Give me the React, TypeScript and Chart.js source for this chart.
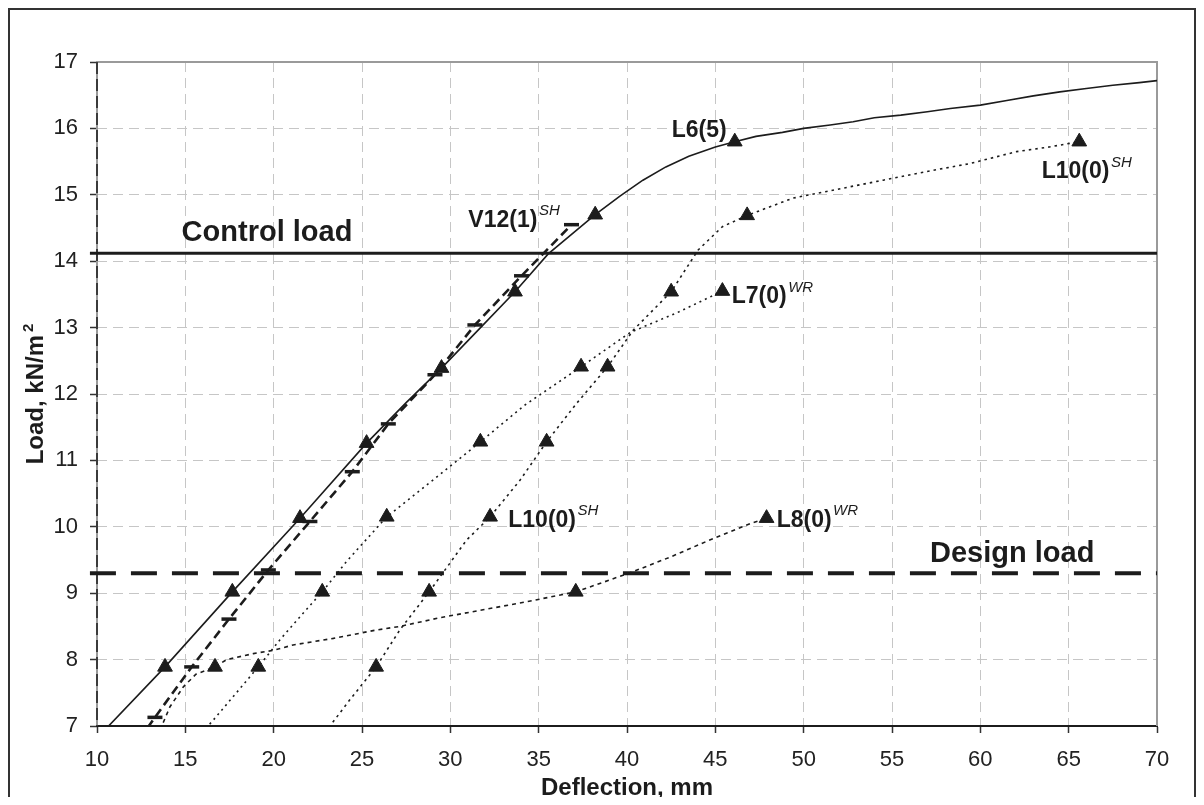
import React, { useEffect, useRef } from 'react';
import { Chart, registerables } from 'chart.js';

Chart.register(...registerables);

const FONT = '"Liberation Sans", Arial, Helvetica, sans-serif';
const INK = '#1c1c1c';

// Axis ranges
const X_MIN = 10;
const X_MAX = 70;
const X_STEP = 5;
const Y_MIN = 7;
const Y_MAX = 17;
const Y_STEP = 1;

// L6(5) — solid curve
const l6X = [10.3, 13.85, 17.66, 21.49, 25.26, 27.5, 29.5, 31.6, 33.66, 35.54, 38.2, 39.6, 40.9, 42.2, 43.5, 45.0, 46.1, 47.3, 48.8, 50.0, 51.5, 52.8, 54.0, 55.5, 57.0, 58.3, 60.0, 61.5, 63.0, 64.5, 66.0, 67.5, 69.0, 70.0];
const l6Y = [6.9, 7.89, 9.02, 10.13, 11.26, 11.87, 12.39, 12.97, 13.54, 14.11, 14.7, 14.98, 15.22, 15.42, 15.58, 15.72, 15.8, 15.88, 15.94, 16.0, 16.05, 16.1, 16.16, 16.2, 16.25, 16.3, 16.35, 16.42, 16.49, 16.55, 16.6, 16.65, 16.69, 16.72];
const l6MarkX = [13.85, 17.66, 21.49, 25.26, 29.5, 33.66, 38.2, 46.1];
const l6MarkY = [7.89, 9.02, 10.13, 11.26, 12.39, 13.54, 14.7, 15.8];

// V12(1)SH — dashed curve with dash markers
const v12X = [12.4, 13.28, 15.36, 17.47, 19.7, 22.05, 24.45, 26.49, 29.13, 31.39, 34.03, 36.86];
const v12Y = [6.8, 7.13, 7.89, 8.61, 9.35, 10.08, 10.83, 11.55, 12.29, 13.04, 13.78, 14.55];
const v12MarkX = [13.28, 15.36, 17.47, 19.7, 22.05, 24.45, 26.49, 29.13, 31.39, 34.03, 36.86];
const v12MarkY = [7.13, 7.89, 8.61, 9.35, 10.08, 10.83, 11.55, 12.29, 13.04, 13.78, 14.55];

// L7(0)WR — dotted
const l7X = [15.9, 16.49, 19.13, 20.36, 21.64, 22.75, 24.13, 26.4, 29.0, 31.7, 34.2, 37.4, 40.2, 42.8, 45.4];
const l7Y = [6.9, 7.06, 7.89, 8.3, 8.69, 9.02, 9.48, 10.15, 10.7, 11.28, 11.83, 12.41, 12.93, 13.22, 13.55];
const l7MarkX = [19.13, 22.75, 26.4, 31.7, 37.4, 45.4];
const l7MarkY = [7.89, 9.02, 10.15, 11.28, 12.41, 13.55];

// L10(0)SH — dotted
const l10X = [22.9, 24.3, 25.8, 27.15, 28.8, 30.92, 32.25, 33.94, 35.45, 37.15, 38.9, 40.35, 42.5, 44.03, 45.4, 46.8, 49.4, 51.3, 52.6, 54.5, 56.95, 59.4, 62.05, 63.9, 65.6];
const l10Y = [6.9, 7.39, 7.89, 8.45, 9.02, 9.8, 10.15, 10.7, 11.28, 11.86, 12.41, 12.96, 13.54, 14.17, 14.52, 14.69, 14.95, 15.05, 15.12, 15.22, 15.35, 15.47, 15.65, 15.72, 15.8];
const l10MarkX = [25.8, 28.8, 32.25, 35.45, 38.9, 42.5, 46.8, 65.6];
const l10MarkY = [7.89, 9.02, 10.15, 11.28, 12.41, 13.54, 14.69, 15.8];

// L8(0)WR — dotted
const l8X = [13.57, 14.13, 14.89, 15.6, 16.68, 17.34, 18.85, 19.98, 21.1, 23.38, 25.7, 27.15, 29.4, 31.85, 34.3, 37.1, 38.5, 40.3, 42.5, 44.5, 47.0, 47.9];
const l8Y = [6.94, 7.29, 7.59, 7.78, 7.89, 8.0, 8.09, 8.14, 8.22, 8.32, 8.44, 8.5, 8.63, 8.75, 8.87, 9.02, 9.15, 9.32, 9.55, 9.78, 10.05, 10.13];
const l8MarkX = [16.68, 37.1, 47.9];
const l8MarkY = [7.89, 9.02, 10.13];

// Reference load levels
const CONTROL_LOAD = 14.12;
const DESIGN_LOAD = 9.3;
const LOAD_LINE_X = [9.6, 70];

// Annotations
const CURVE_LABELS = ['L6(5)', 'L10(0)', 'V12(1)', 'L7(0)', 'L10(0)', 'L8(0)'];
const CURVE_LABEL_SUP = ['', 'SH', 'SH', 'WR', 'SH', 'WR'];
const CURVE_LABEL_X = [42.53, 63.47, 31.02, 45.93, 33.28, 48.47];
const CURVE_LABEL_Y = [15.875, 15.248, 14.52, 13.366, 10.0, 10.0];
const LOAD_LABELS = ['Control load', 'Design load'];
const LOAD_LABEL_X = [14.79, 57.15];
const LOAD_LABEL_Y = [14.309, 9.474];
const X_TITLE = 'Deflection, mm';
const Y_TITLE = 'Load, kN/m';
const Y_TITLE_SUP = '2';

const pts = (xs: number[], ys: number[]) => xs.map((x, i) => ({ x, y: ys[i] }));

const framePlugin = {
  id: 'frame',
  beforeDatasetsDraw(chart: any) {
    const { ctx, chartArea } = chart;
    const { left, top, right, bottom } = chartArea;
    ctx.save();
    ctx.strokeStyle = '#9a9a9a';
    ctx.lineWidth = 2;
    ctx.beginPath();
    ctx.moveTo(left, bottom);
    ctx.lineTo(left, top);
    ctx.lineTo(right, top);
    ctx.lineTo(right, bottom);
    ctx.stroke();
    ctx.strokeStyle = INK;
    ctx.lineWidth = 1.5;
    ctx.setLineDash([12, 5]);
    ctx.beginPath();
    ctx.moveTo(left, top);
    ctx.lineTo(left, bottom);
    ctx.stroke();
    ctx.restore();
  },
  afterDraw(chart: any) {
    const { ctx, width, height } = chart;
    ctx.save();
    ctx.strokeStyle = '#333';
    ctx.lineWidth = 2;
    ctx.beginPath();
    ctx.moveTo(1, height + 5);
    ctx.lineTo(1, 1);
    ctx.lineTo(width - 1, 1);
    ctx.lineTo(width - 1, height + 5);
    ctx.stroke();
    ctx.restore();
  },
};

const labelsPlugin = {
  id: 'labels',
  afterDatasetsDraw(chart: any) {
    const { ctx, chartArea } = chart;
    const xs = chart.scales.x;
    const ys = chart.scales.y;
    ctx.save();
    ctx.fillStyle = INK;
    ctx.textAlign = 'left';
    ctx.textBaseline = 'alphabetic';
    for (let i = 0; i < CURVE_LABELS.length; i++) {
      const px = xs.getPixelForValue(CURVE_LABEL_X[i]);
      const py = ys.getPixelForValue(CURVE_LABEL_Y[i]);
      ctx.font = `bold 23px ${FONT}`;
      ctx.fillText(CURVE_LABELS[i], px, py);
      if (CURVE_LABEL_SUP[i]) {
        const w = ctx.measureText(CURVE_LABELS[i]).width;
        ctx.font = `italic 15px ${FONT}`;
        ctx.fillText(CURVE_LABEL_SUP[i], px + w + 1.5, py - 11.5);
      }
    }
    ctx.font = `bold 29px ${FONT}`;
    for (let i = 0; i < LOAD_LABELS.length; i++) {
      ctx.fillText(LOAD_LABELS[i], xs.getPixelForValue(LOAD_LABEL_X[i]), ys.getPixelForValue(LOAD_LABEL_Y[i]));
    }
    // x title
    ctx.font = `bold 24px ${FONT}`;
    ctx.textAlign = 'center';
    ctx.fillText(X_TITLE, (chartArea.left + chartArea.right) / 2, 787);
    // y title (rotated)
    const cy = (chartArea.top + chartArea.bottom) / 2;
    ctx.translate(35, cy);
    ctx.rotate(-Math.PI / 2);
    ctx.textAlign = 'left';
    ctx.font = `bold 24px ${FONT}`;
    const mw = ctx.measureText(Y_TITLE).width;
    ctx.font = `bold 15px ${FONT}`;
    const sw = ctx.measureText(Y_TITLE_SUP).width;
    const start = -(mw + 3 + sw) / 2;
    ctx.font = `bold 24px ${FONT}`;
    ctx.fillText(Y_TITLE, start, 0);
    ctx.font = `bold 15px ${FONT}`;
    ctx.fillText(Y_TITLE_SUP, start + mw + 3, -10);
    ctx.restore();
  },
};

export default function App() {
  const ref = useRef<HTMLCanvasElement | null>(null);

  useEffect(() => {
    if (!ref.current) return;
    const lineBase = { pointRadius: 0, pointHoverRadius: 0, tension: 0, fill: false };
    const tri = {
      showLine: false,
      pointStyle: 'triangle',
      pointRadius: 8.5,
      pointHoverRadius: 8.5,
      pointBackgroundColor: INK,
      pointBorderColor: INK,
      pointBorderWidth: 1,
    };
    const chart = new Chart(ref.current, {
      type: 'line',
      data: {
        datasets: [
          { ...tri, data: pts(l6MarkX, l6MarkY) },
          { ...tri, data: pts(l7MarkX, l7MarkY) },
          { ...tri, data: pts(l10MarkX, l10MarkY) },
          { ...tri, data: pts(l8MarkX, l8MarkY) },
          {
            showLine: false,
            pointStyle: 'line',
            pointRadius: 7.5,
            pointHoverRadius: 7.5,
            pointBorderColor: INK,
            pointBorderWidth: 3.5,
            data: pts(v12MarkX, v12MarkY),
          },
          { ...lineBase, data: pts(l6X, l6Y), borderColor: INK, borderWidth: 1.6 },
          { ...lineBase, data: pts(v12X, v12Y), borderColor: INK, borderWidth: 2.6, borderDash: [9, 5] },
          { ...lineBase, data: pts(l7X, l7Y), borderColor: INK, borderWidth: 1.6, borderDash: [2, 4] },
          { ...lineBase, data: pts(l10X, l10Y), borderColor: INK, borderWidth: 1.6, borderDash: [2.5, 4] },
          { ...lineBase, data: pts(l8X, l8Y), borderColor: INK, borderWidth: 1.6, borderDash: [4, 4] },
          {
            ...lineBase,
            clip: false,
            data: pts(LOAD_LINE_X, [CONTROL_LOAD, CONTROL_LOAD]),
            borderColor: INK,
            borderWidth: 3.2,
          },
          {
            ...lineBase,
            clip: false,
            data: pts(LOAD_LINE_X, [DESIGN_LOAD, DESIGN_LOAD]),
            borderColor: INK,
            borderWidth: 4,
            borderDash: [26, 15],
          },
        ],
      },
      options: {
        animation: false,
        responsive: false,
        events: [],
        layout: { padding: { top: 54, right: 39, left: 0, bottom: 0 } },
        plugins: { legend: { display: false }, tooltip: { enabled: false }, title: { display: false } },
        scales: {
          x: {
            type: 'linear',
            min: X_MIN,
            max: X_MAX,
            afterFit: (s: any) => {
              s.height = 79;
            },
            ticks: {
              stepSize: X_STEP,
              padding: 14,
              color: '#222',
              font: { family: FONT, size: 22 },
              maxRotation: 0,
            },
            grid: {
              color: '#c6c6c6',
              lineWidth: 1,
              tickLength: 7,
              tickColor: '#333',
              tickWidth: 1.5,
              tickBorderDash: [],
            },
            border: { display: true, color: INK, width: 2, dash: [10, 6] },
          },
          y: {
            type: 'linear',
            min: Y_MIN,
            max: Y_MAX,
            afterFit: (s: any) => {
              s.width = 89;
            },
            ticks: {
              stepSize: Y_STEP,
              padding: 12,
              color: '#222',
              font: { family: FONT, size: 22 },
            },
            grid: {
              color: '#c6c6c6',
              lineWidth: 1,
              tickLength: 7,
              tickColor: '#333',
              tickWidth: 1.5,
              tickBorderDash: [],
            },
            border: { display: false, dash: [10, 6] },
          },
        },
      },
      plugins: [framePlugin, labelsPlugin],
    } as any);
    return () => chart.destroy();
  }, []);

  return (
    <div style={{ position: 'relative', width: 1188, height: 789 }}>
      <canvas
        ref={ref}
        width={1188}
        height={797}
        style={{ position: 'absolute', left: 0, top: 0, width: 1188, height: 797, display: 'block' }}
      />
    </div>
  );
}
